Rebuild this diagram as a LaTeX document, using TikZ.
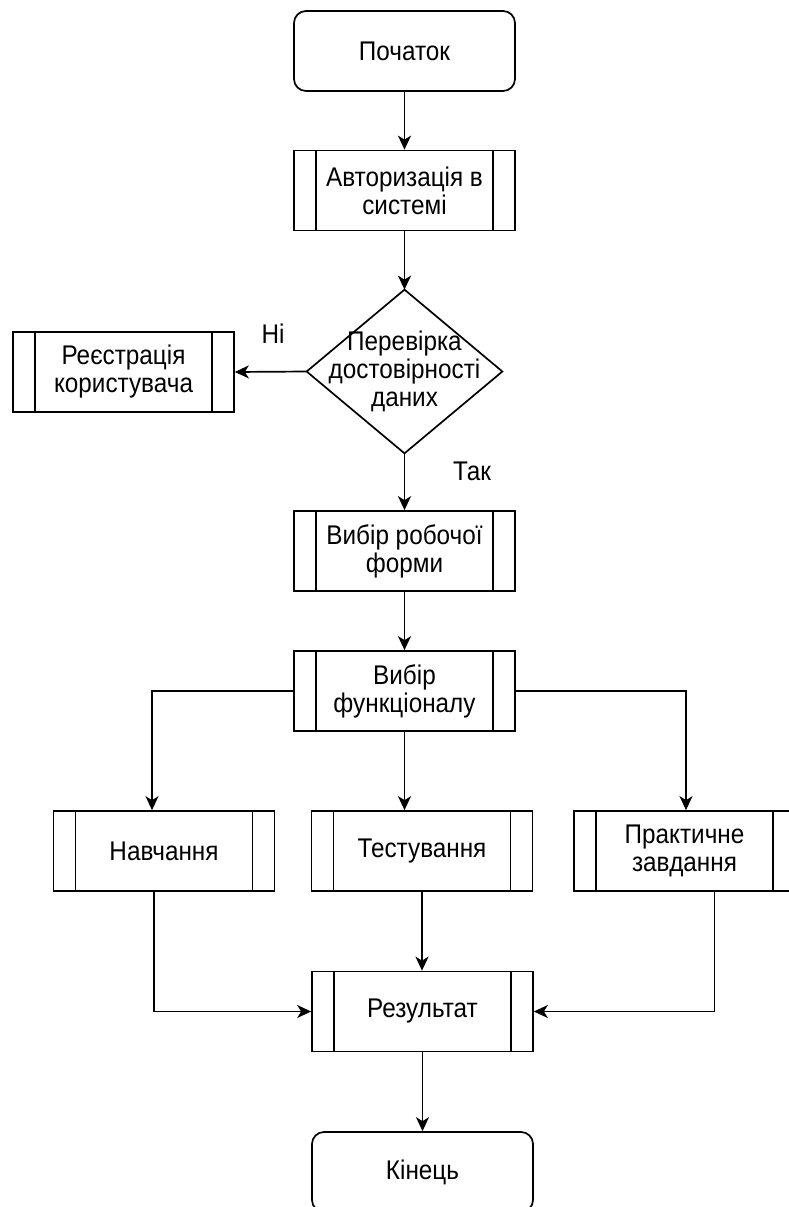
\documentclass[tikz,border=0pt]{standalone}
\usepackage{fontspec}
\setmainfont{Liberation Sans}[FakeStretch=0.9]
\usetikzlibrary{arrows.meta}
\tikzset{
  base/.style={line width=1.7pt, minimum width=221pt, minimum height=80pt, inner sep=0pt, align=center, font=\fontsize{27}{28}\selectfont},
  term/.style={base, draw, rounded corners=12pt},
  proc/.style={base, draw, path picture={
      \draw[line width=1.7pt] ([xshift=22pt]path picture bounding box.north west) -- ([xshift=22pt]path picture bounding box.south west);
      \draw[line width=1.7pt] ([xshift=-22pt]path picture bounding box.north east) -- ([xshift=-22pt]path picture bounding box.south east);}},
  conn/.style={line width=1.7pt, -{Stealth[length=14pt,width=13pt,inset=4pt]}},
  lbl/.style={font=\fontsize{27}{28}\selectfont, inner sep=0pt}
}
\begin{document}
\begin{tikzpicture}[x=1pt,y=-1pt]
\useasboundingbox (0,0) rectangle (789,1207);
\clip (0,0) rectangle (789,1207);
\node[term] (start) at (404.5,51) {Початок};
\node[proc] (auth) at (404.5,190.5) {Авторизація в\\системі};
\node[base, minimum width=194pt, minimum height=162pt] (chk) at (404.5,371.5) {Перевірка\\достовірності\\даних};
\draw[line width=1.7pt] (chk.north) -- (chk.east) -- (chk.south) -- (chk.west) -- cycle;
\node[proc] (reg) at (123.5,372) {Реєстрація\\користувача};
\node[proc] (form) at (404.5,551) {Вибір робочої\\форми};
\node[proc] (func) at (404.5,691) {Вибір\\функціоналу};
\node[proc] (learn) at (164,851) {Навчання};
\node[proc] (test) at (422,851) {Тестування};
\node[proc] (pract) at (684.5,851) {Практичне\\завдання};
\node[proc] (res) at (422.5,1011.5) {Результат};
\node[term] (end) at (422.5,1172) {Кінець};
\node[lbl] (no) at (273,334) {Ні};
\node[lbl] (yes) at (472,471) {Так};

\draw[conn] (start.south) -- (auth.north);
\draw[conn] (auth.south) -- (chk.north);
\draw[conn] (chk.west) -- (reg.east);
\draw[conn] (chk.south) -- (form.north);
\draw[conn] (form.south) -- (func.north);
\draw[conn] (func.west) -| ([xshift=-12pt]learn.north);
\draw[conn] (func.south) -- (func.south |- test.north);
\draw[conn] (func.east) -| ([xshift=1.5pt]pract.north);
\draw[conn] ([xshift=-10pt]learn.south) |- (res.west);
\draw[conn] (test.south) -- (test.south |- res.north);
\draw[conn] ([xshift=30pt]pract.south) |- (res.east);
\draw[conn] (res.south) -- (end.north);
\end{tikzpicture}
\end{document}
